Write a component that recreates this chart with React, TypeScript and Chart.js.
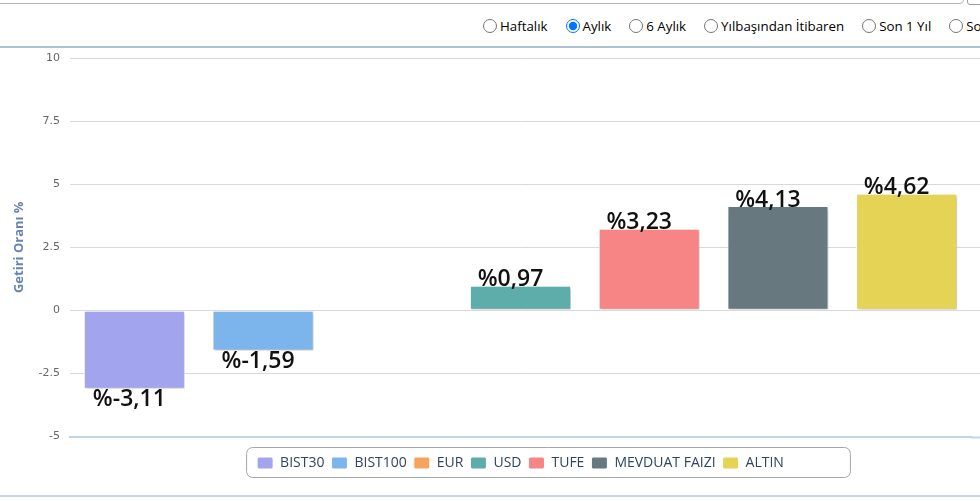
import React, { useEffect, useRef } from "react";
import { Chart, registerables } from "chart.js";

Chart.register(...registerables);

// series (one bar each), monthly return in %
const categories = ["BIST30", "BIST100", "EUR", "USD", "TUFE", "MEVDUAT FAIZI", "ALTIN"];
const returns: (number | null)[] = [-3.11, -1.59, null, 0.97, 3.23, 4.13, 4.62];
const colors = ["#a2a5ee", "#7cb5ec", "#f7a35c", "#5fadaa", "#f78585", "#67787f", "#e4d354"];
const yTicks = [-5, -2.5, 0, 2.5, 5, 7.5, 10];
const periods = ["Haftalık", "Aylık", "6 Aylık", "Yılbaşından İtibaren", "Son 1 Yıl", "Son 3 Yıl"];
const selectedPeriod = "Aylık";

const fmt = (v: number) => "%" + v.toFixed(2).replace(".", ",");

const decor = {
  id: "decor",
  beforeDatasetsDraw(chart: any) {
    const { ctx, chartArea } = chart;
    const y = chart.scales.y;
    // grid lines keep going past the plot edge
    ctx.save();
    y.ticks.forEach((t: any) => {
      const py = Math.round(y.getPixelForValue(t.value)) + 0.5;
      ctx.beginPath();
      ctx.strokeStyle = t.value === yTicks[0] ? "#c5d4e4" : "#d9d9d9";
      ctx.lineWidth = t.value === yTicks[0] ? 2 : 1;
      ctx.moveTo(chartArea.right, py);
      ctx.lineTo(chart.width, py);
      ctx.stroke();
    });
    ctx.restore();
    ctx.save();
    ctx.shadowColor = "rgba(0,0,0,0.28)";
    ctx.shadowOffsetX = 1.5;
    ctx.shadowOffsetY = 1.5;
    ctx.shadowBlur = 3;
  },
  afterDatasetsDraw(chart: any) {
    const { ctx } = chart;
    ctx.restore();
    ctx.save();
    ctx.font = '600 23px "Open Sans"';
    ctx.fillStyle = "#111";
    ctx.textAlign = "center";
    ctx.textBaseline = "alphabetic";
    returns.forEach((v, i) => {
      if (v === null) return;
      const bar = chart.getDatasetMeta(i).data[0];
      if (v >= 0) ctx.fillText(fmt(v), bar.x - 10, bar.y + 0.5);
      else ctx.fillText(fmt(v), bar.x - 5, bar.y + 17.5);
    });
    ctx.restore();
  },
  afterDraw(chart: any) {
    const boxes = chart.legend?.legendHitBoxes;
    if (!boxes || !boxes.length) return;
    const { ctx } = chart;
    const first = boxes[0];
    const last = boxes[boxes.length - 1];
    const x0 = first.left - 10.5;
    const x1 = last.left + last.width + 66.5;
    const y0 = first.top - 8.5;
    const y1 = first.top + first.height + 7.5;
    ctx.save();
    ctx.strokeStyle = "#a6a6a6";
    ctx.lineWidth = 1;
    ctx.beginPath();
    ctx.roundRect(x0, y0, x1 - x0, y1 - y0, 6);
    ctx.stroke();
    ctx.restore();
  },
};

const ReturnChart: React.FC = () => {
  const canvasRef = useRef<HTMLCanvasElement | null>(null);
  const chartRef = useRef<Chart | null>(null);

  useEffect(() => {
    if (!canvasRef.current) return;
    if (chartRef.current) chartRef.current.destroy();

    chartRef.current = new Chart(canvasRef.current, {
      type: "bar",
      data: {
        labels: [selectedPeriod],
        datasets: categories.map((name, i) => ({
          label: name,
          data: [returns[i]],
          backgroundColor: colors[i],
          borderColor: "#ffffff",
          borderWidth: 1,
          borderSkipped: false,
          categoryPercentage: 1,
          barPercentage: 0.785,
        })),
      },
      options: {
        animation: false,
        responsive: true,
        maintainAspectRatio: false,
        layout: { padding: { top: 10, right: 9, bottom: 14, left: 0 } },
        plugins: {
          tooltip: { enabled: false },
          legend: {
            position: "bottom",
            fullSize: false,
            labels: {
              boxWidth: 16,
              boxHeight: 12,
              padding: 7,
              useBorderRadius: true,
              borderRadius: 2,
              color: "#2f4560",
              font: { family: "Open Sans", size: 14 },
            },
          },
        },
        scales: {
          x: {
            ticks: { display: false },
            grid: { display: false },
            border: { display: true, color: "#c5d4e4", width: 2 },
            afterFit: (s: any) => {
              s.height = 12.5;
            },
          },
          y: {
            min: -5,
            max: 10,
            afterBuildTicks: (s: any) => {
              s.ticks = yTicks.map((v) => ({ value: v }));
            },
            afterFit: (s: any) => {
              s.width = 70;
            },
            ticks: {
              padding: 0,
              color: "#666",
              font: { family: "DejaVu Sans", size: 11 },
              callback: (v: any) => String(v),
            },
            grid: {
              drawTicks: true,
              tickLength: 10,
              tickColor: "rgba(0,0,0,0)",
              color: (c: any) => (c.tick && c.tick.value === yTicks[0] ? "rgba(0,0,0,0)" : "#d9d9d9"),
            },
            border: { display: false },
            title: {
              display: true,
              text: "Getiri Oranı %",
              color: "#6685ad",
              font: { family: "Open Sans", size: 13, weight: "bold" },
              padding: { top: 11, bottom: 0 },
            },
          },
        },
      },
      plugins: [decor],
    });

    return () => {
      if (chartRef.current) {
        chartRef.current.destroy();
        chartRef.current = null;
      }
    };
  }, []);

  return <canvas ref={canvasRef} />;
};

export default function App() {
  return (
    <div
      style={{
        position: "fixed",
        left: 0,
        top: 0,
        width: 980,
        height: 501,
        overflow: "hidden",
        background: "#fff",
        fontFamily: '"Open Sans", sans-serif',
      }}
    >
      <div
        style={{
          position: "absolute",
          left: -6,
          top: -30,
          width: 968,
          height: 32,
          border: "1px solid #b5b5b5",
          borderRadius: 4,
        }}
      />
      <div
        style={{
          position: "absolute",
          left: 967,
          top: -30,
          width: 40,
          height: 33,
          border: "1px solid #9a9a9a",
          borderRadius: 3,
        }}
      />
      <div
        style={{
          position: "absolute",
          left: 483,
          top: 17,
          display: "flex",
          gap: 18,
          whiteSpace: "nowrap",
          fontSize: 13.3,
          lineHeight: "18px",
          color: "#000",
        }}
      >
        {periods.map((p) => (
          <label key={p} style={{ display: "flex", alignItems: "center" }}>
            <input
              type="radio"
              name="period"
              defaultChecked={p === selectedPeriod}
              style={{ width: 14, height: 14, margin: "0 3px 0 0" }}
            />
            {p}
          </label>
        ))}
      </div>
      <div
        style={{
          position: "absolute",
          left: 0,
          top: 46,
          width: 980,
          height: 0,
          borderTop: "2px solid #adc0d4",
        }}
      />
      <div style={{ position: "absolute", left: 0, top: 48, width: 980, height: 446 }}>
        <ReturnChart />
      </div>
      <div
        style={{
          position: "absolute",
          left: 0,
          top: 495,
          width: 980,
          height: 0,
          borderTop: "2px solid #c5d4e4",
        }}
      />
    </div>
  );
}
